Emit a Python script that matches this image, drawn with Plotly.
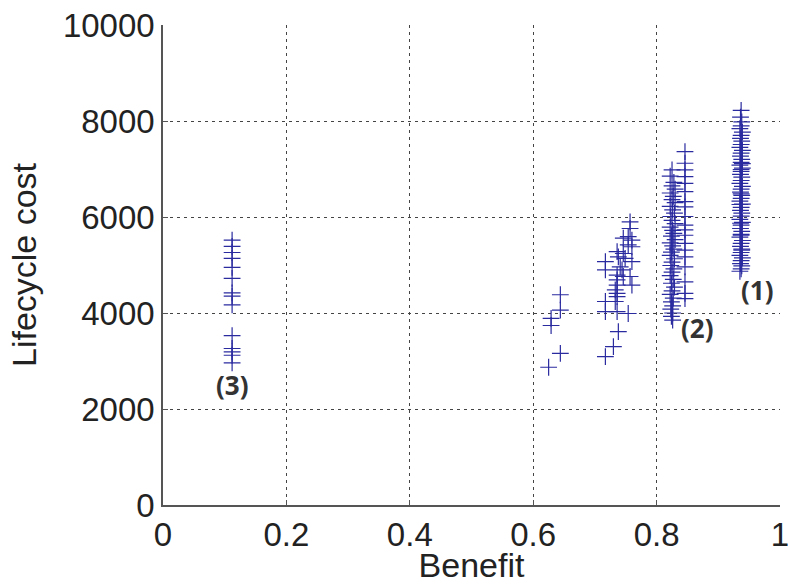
import plotly.graph_objects as go

# Design alternatives: benefit vs. lifecycle cost, grouped by cluster
x_c3 = [0.112] * 14
y_c3 = [5520, 5390, 5260, 5140, 4950, 4720, 4420, 4350, 4170, 3530, 3260, 3190, 3120, 2960]

x_ca = [0.644, 0.644, 0.629, 0.629, 0.644, 0.625]
y_ca = [4380, 4060, 3890, 3740, 3160, 2870]

x_cb = [0.757, 0.757, 0.754, 0.760, 0.746, 0.754, 0.760, 0.736, 0.746, 0.738, 0.749,
        0.717, 0.760, 0.717, 0.741, 0.744, 0.736, 0.746, 0.757, 0.736, 0.760, 0.736,
        0.733, 0.736, 0.736, 0.717, 0.733, 0.717, 0.736, 0.754, 0.738, 0.730, 0.717]
y_cb = [5900, 5760, 5590, 5520, 5560, 5420, 5380, 5280, 5240, 5170, 5140,
        5070, 5070, 4900, 4960, 4900, 4790, 4760, 4760, 4690, 4580, 4580,
        4480, 4410, 4340, 4240, 4240, 4030, 4030, 3990, 3610, 3300, 3090]

x_c2a = [0.825, 0.822, 0.828, 0.825, 0.830, 0.822, 0.827, 0.825, 0.830, 0.822,
         0.826, 0.829, 0.823, 0.825, 0.830, 0.822, 0.826, 0.828, 0.824, 0.830,
         0.822, 0.826, 0.828, 0.824, 0.822, 0.829, 0.825, 0.823, 0.828, 0.825,
         0.822, 0.827, 0.824, 0.829, 0.825, 0.822, 0.827, 0.824, 0.826, 0.823,
         0.826, 0.824, 0.826]
y_c2a = [6980, 6850, 6720, 6650, 6580, 6500, 6430, 6360, 6300, 6220,
         6150, 6080, 6010, 5930, 5860, 5790, 5720, 5660, 5600, 5530,
         5460, 5400, 5330, 5270, 5200, 5130, 5060, 4990, 4920, 4850,
         4780, 4700, 4620, 4540, 4460, 4390, 4310, 4230, 4150, 4080,
         4000, 3930, 3850]

x_c2b = [0.846] * 19
y_c2b = [7360, 7120, 6980, 6840, 6700, 6530, 6320, 6210, 6010, 5830,
         5730, 5620, 5450, 5310, 5170, 4960, 4650, 4410, 4300]

x_c1 = [0.937, 0.936, 0.938, 0.937, 0.935, 0.939, 0.937, 0.936, 0.938, 0.937,
        0.935, 0.939, 0.937, 0.936, 0.938, 0.937, 0.935, 0.939, 0.937, 0.936,
        0.938, 0.937, 0.935, 0.939, 0.937, 0.936, 0.938, 0.937, 0.935, 0.939,
        0.937, 0.936, 0.938, 0.937, 0.935, 0.939, 0.937, 0.936, 0.938, 0.937,
        0.935, 0.939, 0.937, 0.936, 0.938, 0.937, 0.935, 0.939, 0.937, 0.936,
        0.938, 0.937, 0.935, 0.939, 0.937, 0.936, 0.938, 0.937, 0.935, 0.937]
y_c1 = [8220, 8080, 7980, 7900, 7840, 7770, 7700, 7640, 7580, 7510,
        7450, 7390, 7330, 7270, 7200, 7140, 7080, 7020, 6950, 6890,
        6830, 6760, 6700, 6640, 6580, 6520, 6450, 6390, 6330, 6270,
        6200, 6140, 6080, 6020, 5950, 5890, 5830, 5760, 5700, 5640,
        5580, 5510, 5450, 5390, 5330, 5260, 5200, 5150, 5090, 5030,
        4980, 4920, 4870, 7110, 6480, 5870, 5310, 6990, 6260, 5620]

cluster_labels = ["(1)", "(2)", "(3)"]
label_x = [0.963, 0.866, 0.112]
label_y = [4480, 3690, 2500]

x_ticks = [0, 0.2, 0.4, 0.6, 0.8, 1]
x_tick_text = ["0", "0.2", "0.4", "0.6", "0.8", "1"]
y_ticks = [0, 2000, 4000, 6000, 8000, 10000]
y_tick_text = ["0", "2000", "4000", "6000", "8000", "10000"]

xs = x_c3 + x_ca + x_cb + x_c2a + x_c2b + x_c1
ys = y_c3 + y_ca + y_cb + y_c2a + y_c2b + y_c1

marker_color = "#2b2ba0"

fig = go.Figure()
fig.add_trace(go.Scatter(
    x=xs, y=ys, mode="markers",
    marker=dict(symbol="cross-thin", size=12,
                line=dict(color=marker_color, width=1.2)),
    showlegend=False, hoverinfo="x+y",
))

for t, lx, ly in zip(cluster_labels, label_x, label_y):
    fig.add_annotation(x=lx, y=ly, text=f"<b>{t}</b>", showarrow=False,
                       font=dict(family="Open Sans", size=26, color="#333333"))

tick_font = dict(family="Liberation Sans, Arial", size=33, color="#222222")
title_font = dict(family="Liberation Sans, Arial", size=34, color="#222222")

fig.update_layout(
    width=788, height=584,
    margin=dict(l=163, r=8, t=25, b=79),
    paper_bgcolor="white", plot_bgcolor="white",
    font=tick_font,
)
fig.update_xaxes(
    range=[0, 1], tickvals=x_ticks, ticktext=x_tick_text,
    ticklabeloverflow="allow", automargin=False,
    showgrid=True, gridcolor="#444444", griddash="3px,4px", gridwidth=1,
    showline=True, linecolor="#555555", linewidth=1.5,
    ticks="inside", ticklen=5, tickcolor="#555555",
    zeroline=False, tickfont=tick_font,
    title=dict(text="Benefit", font=title_font, standoff=2),
)
fig.update_yaxes(
    range=[0, 10000], tickvals=y_ticks, ticktext=y_tick_text,
    ticklabeloverflow="allow", automargin=False,
    showgrid=True, gridcolor="#444444", griddash="3px,4px", gridwidth=1,
    showline=True, linecolor="#555555", linewidth=1.5,
    ticks="inside", ticklen=5, tickcolor="#555555",
    zeroline=False, tickfont=tick_font,
    title=dict(text="Lifecycle cost", font=title_font, standoff=16),
)

fig.write_html("out.html")
